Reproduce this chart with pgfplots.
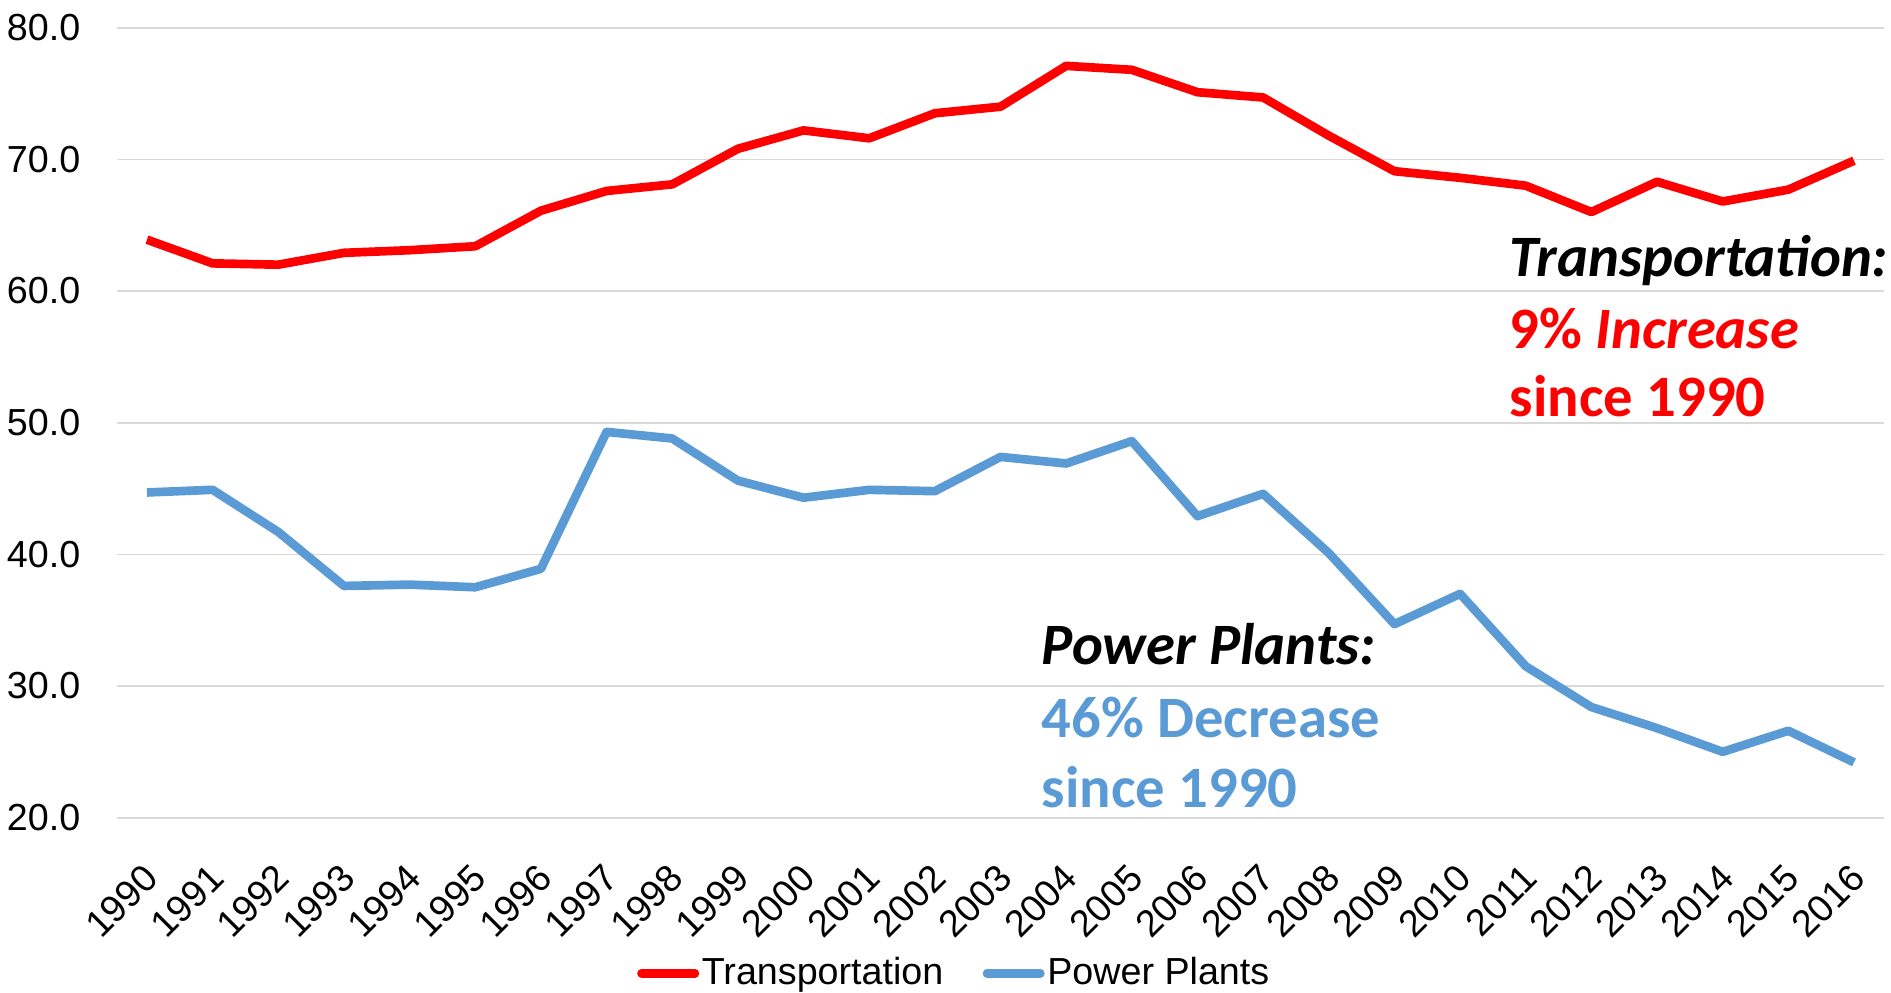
\documentclass[border=0pt]{standalone}
\usepackage{fontspec}
\setmainfont{Liberation Sans}
\newfontfamily\calib{Carlito}
\usepackage{pgfplots}
\pgfplotsset{compat=1.18}
\definecolor{tred}{HTML}{FF0000}
\definecolor{pblue}{HTML}{5B9BD5}
\definecolor{gridc}{HTML}{D9D9D9}
\begin{document}
\begin{tikzpicture}
\path[use as bounding box] (0,0) rectangle (567.3pt,297.6pt);
\begin{axis}[
  at={(35.1pt,52.3pt)}, anchor=south west,
  scale only axis, width=530.1pt, height=237pt,
  xmin=1989.543, xmax=2016.457, ymin=20, ymax=80,
  xtick={1990,...,2016},
  ytick={20,30,...,80},
  axis line style={draw=none},
  tick style={draw=none},
  ymajorgrids, grid style={gridc, line width=0.5pt},
  /pgf/number format/assume math mode=true,
  ticklabel style={font=\fontsize{11.3}{13}\selectfont},
  yticklabel={\pgfmathprintnumber[fixed,fixed zerofill,precision=1]{\tick}},
  xticklabel={\pgfmathprintnumber[1000 sep={}]{\tick}},
  yticklabel style={xshift=-7.5pt},
  xticklabel style={rotate=45, anchor=north east, xshift=-7pt, yshift=-4.8pt},
  legend style={draw=none, at={(0.474,-0.197)}, anchor=center, legend columns=2,
    font=\fontsize{11.3}{13}\selectfont, nodes={inner sep=0.8pt},
    /tikz/every even column/.append style={column sep=11pt}},
  legend image code/.code={\draw[#1, line cap=round] (0pt,0pt) -- (16pt,0pt);},
  every axis plot/.append style={line width=2.6pt, line join=round},
]
\addplot[tred, no markers] coordinates {
(1990,63.9) (1991,62.1) (1992,62.0) (1993,62.9) (1994,63.1) (1995,63.4)
(1996,66.1) (1997,67.6) (1998,68.1) (1999,70.8) (2000,72.2) (2001,71.6)
(2002,73.5) (2003,74.0) (2004,77.1) (2005,76.8) (2006,75.1) (2007,74.7)
(2008,71.8) (2009,69.1) (2010,68.6) (2011,68.0) (2012,66.0) (2013,68.3)
(2014,66.8) (2015,67.7) (2016,69.9)};
\addlegendentry{Transportation}
\addplot[pblue, no markers] coordinates {
(1990,44.7) (1991,44.9) (1992,41.7) (1993,37.6) (1994,37.7) (1995,37.5)
(1996,38.9) (1997,49.3) (1998,48.8) (1999,45.6) (2000,44.3) (2001,44.9)
(2002,44.8) (2003,47.4) (2004,46.9) (2005,48.6) (2006,42.9) (2007,44.6)
(2008,40.1) (2009,34.7) (2010,37.0) (2011,31.5) (2012,28.4) (2013,26.8)
(2014,25.0) (2015,26.6) (2016,24.2)};
\addlegendentry{Power Plants}
\node[anchor=base west, inner sep=0pt, font=\calib\bfseries\itshape\fontsize{17.6}{20}\selectfont] at (axis cs:2010.75,61.1) {Transportation:};
\node[anchor=base west, inner sep=0pt, text=tred, font=\calib\bfseries\fontsize{17.6}{20}\selectfont] at (axis cs:2010.75,55.6) {9\% \textit{Increase}};
\node[anchor=base west, inner sep=0pt, text=tred, font=\calib\bfseries\fontsize{17.6}{20}\selectfont] at (axis cs:2010.75,50.45) {since 1990};
\node[anchor=base west, inner sep=0pt, font=\calib\bfseries\itshape\fontsize{17.6}{20}\selectfont] at (axis cs:2003.62,31.6) {Power Plants:};
\node[anchor=base west, inner sep=0pt, text=pblue, font=\calib\bfseries\fontsize{17.6}{20}\selectfont] at (axis cs:2003.62,26.1) {46\% Decrease};
\node[anchor=base west, inner sep=0pt, text=pblue, font=\calib\bfseries\fontsize{17.6}{20}\selectfont] at (axis cs:2003.62,20.8) {since 1990};
\end{axis}
\end{tikzpicture}
\end{document}
